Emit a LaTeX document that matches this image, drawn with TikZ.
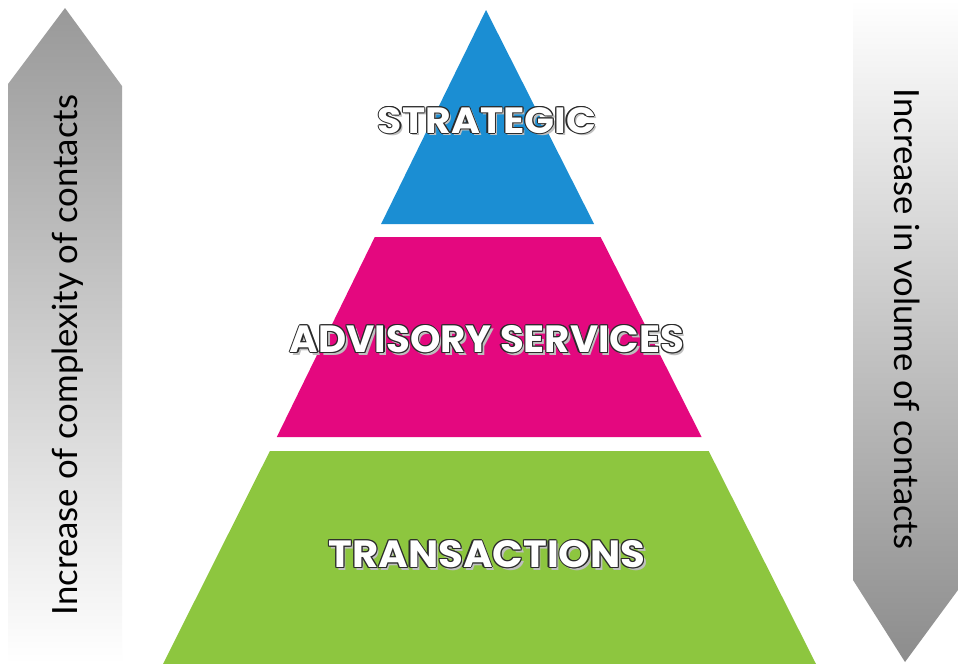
\documentclass[tikz,border=0pt]{standalone}
\usepackage{fontspec}
\setmainfont{Lato}
\newfontfamily\labelfont{Poppins}
\definecolor{pblue}{HTML}{1B8ED3}
\definecolor{pmag}{HTML}{E4087F}
\definecolor{pgreen}{HTML}{8DC63F}
\definecolor{outl}{HTML}{2B2B2B}
\newcommand\lbltxt[4]{\color{#4}\resizebox{#2}{#3}{\labelfont\bfseries #1}}
\newcommand\outlinedtext[3]{%
  \def\oo##1##2##3{\rlap{\kern##1\raisebox{##2}{\lbltxt{#1}{#2}{#3}{##3}}}}%
  \oo{2.5pt}{-2.5pt}{black!25}%
  \oo{1.1pt}{0pt}{outl}\oo{-1.1pt}{0pt}{outl}\oo{0pt}{1.1pt}{outl}\oo{0pt}{-1.1pt}{outl}%
  \oo{0.8pt}{0.8pt}{outl}\oo{-0.8pt}{0.8pt}{outl}\oo{0.8pt}{-0.8pt}{outl}\oo{-0.8pt}{-0.8pt}{outl}%
  {\lbltxt{#1}{#2}{#3}{white}}}
\begin{document}
\begin{tikzpicture}[x=1pt,y=-1pt,
  sidetext/.style={inner sep=0pt,text=black},
  levellabel/.style={inner sep=0pt}]
\useasboundingbox (0,0) rectangle (959,664);
\fill[white] (0,0) rectangle (959,664);
% side arrows
\shade[top color=black!40,bottom color=white]
  (8,664) -- (8,84) -- (65,8) -- (122,86) -- (122,664) -- cycle;
\shade[top color=white,bottom color=black!45]
  (853,0) -- (853,580) -- (905,662) -- (958,590) -- (958,0) -- cycle;
\node[sidetext,rotate=90] (lefttext) at (68,355)
  {\resizebox{520pt}{!}{Increase of complexity of contacts}};
\node[sidetext,rotate=-90] (righttext) at (907,319)
  {\resizebox{460pt}{!}{Increase in volume of contacts}};
% pyramid
\fill[pblue] (486,10) -- (594.1,224) -- (381.1,224) -- cycle;
\fill[pmag] (374.8,237) -- (600.6,237) -- (701.6,437) -- (276.8,437) -- cycle;
\fill[pgreen] (269.9,451) -- (708.7,451) -- (816,664) -- (163,664) -- cycle;
% labels
\node[levellabel] (strategic) at (487,121) {\outlinedtext{STRATEGIC}{218pt}{26pt}};
\node[levellabel] (advisory) at (487,340) {\outlinedtext{ADVISORY SERVICES}{394pt}{27pt}};
\node[levellabel] (transactions) at (487,555) {\outlinedtext{TRANSACTIONS}{317pt}{27pt}};
\end{tikzpicture}
\end{document}
